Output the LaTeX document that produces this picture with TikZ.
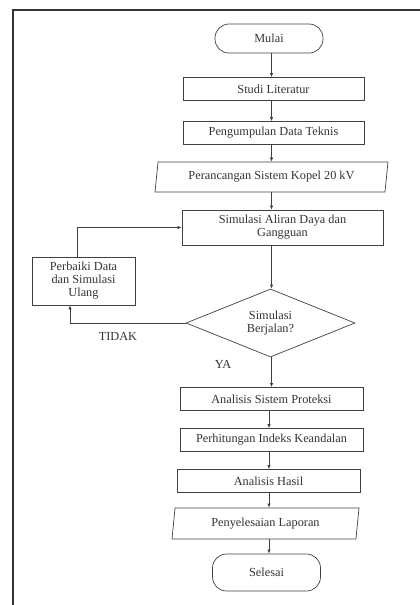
\documentclass[tikz,border=0pt]{standalone}
\usepackage{fontspec}
\setmainfont{Liberation Serif}
\usetikzlibrary{arrows.meta,shapes.geometric}

\begin{document}
\begin{tikzpicture}[x=1pt,y=-1pt,
  font=\fontsize{12.3}{13}\selectfont, text=black!80,
  every node/.style={draw=black!75, line width=0.7pt, align=center, inner sep=1pt},
  proc/.style={rectangle, minimum width=#1, minimum height=23},
  io/.style={trapezium, trapezium left angle=77, trapezium right angle=103,
    trapezium stretches body, minimum width=#1, minimum height=30},
  term/.style={rectangle, rounded corners=14, minimum width=108, minimum height=#1},
  dec/.style={diamond, aspect=2.5, minimum width=169, minimum height=68, inner sep=0},
  lbl/.style={draw=none},
  arr/.style={draw=black!75, line width=0.7pt, -{Latex[length=4pt,width=3.5pt]}}]
\useasboundingbox (0,0) rectangle (420,605);
% frame
\draw[black!80, line width=1.3pt] (13,605) -- (13,10) -- (420,10);
% main flow
\node[term=29] (mulai) at (269,38.5) {Mulai};
\node[proc=181] (studi) at (273.5,89) {Studi Literatur};
\node[proc=181] (data) at (273.5,133) {Pengumpulan Data Teknis};
\node[io=233] (rancang) at (271.5,177) {Perancangan Sistem Kopel 20 kV};
\node[proc=201, minimum height=35] (simulasi) at (282.5,227.5) {Simulasi Aliran Daya dan\\Gangguan};
\node[dec] (cek) at (270.5,323) {Simulasi\\Berjalan?};
\node[proc=103, minimum height=48] (perbaiki) at (83.5,281) {Perbaiki Data\\dan Simulasi\\Ulang};
\node[proc=183] (proteksi) at (271.5,399) {Analisis Sistem Proteksi};
\node[proc=183] (indeks) at (271.5,440) {Perhitungan Indeks Keandalan};
\node[proc=183] (hasil) at (268.5,481) {Analisis Hasil};
\node[io=187, minimum height=31] (laporan) at (265.5,523.5) {Penyelesaian Laporan};
\node[term=37] (selesai) at (266.5,572.5) {Selesai};
\coordinate (ax) at (271.5,0);
\coordinate (bx) at (269,0);
% arrows
\draw[arr] (mulai.south -| ax) -- (studi.north -| ax);
\draw[arr] (studi.south -| ax) -- (data.north -| ax);
\draw[arr] (data.south -| ax) -- (rancang.north -| ax);
\draw[arr] (rancang.south -| ax) -- (simulasi.north -| ax);
\draw[arr] (simulasi.south -| ax) -- (cek.north -| ax);
\draw[arr] (cek.south -| ax) -- (proteksi.north -| ax);
\draw[arr] (proteksi.south -| bx) -- (indeks.north -| bx);
\draw[arr] (indeks.south -| bx) -- (hasil.north -| bx);
\draw[arr] (hasil.south -| bx) -- (laporan.north -| bx);
\draw[arr] (laporan.south -| bx) -- (selesai.north -| bx);
% loop back
\draw[arr] (cek.west) -| ([xshift=-13.5]perbaiki.south);
\draw[arr] ([xshift=-6.5]perbaiki.north) |- (simulasi.west);
\node[lbl] (tidak) at (118,336) {TIDAK};
\node[lbl] (ya) at (223,364) {YA};
\end{tikzpicture}
\end{document}
